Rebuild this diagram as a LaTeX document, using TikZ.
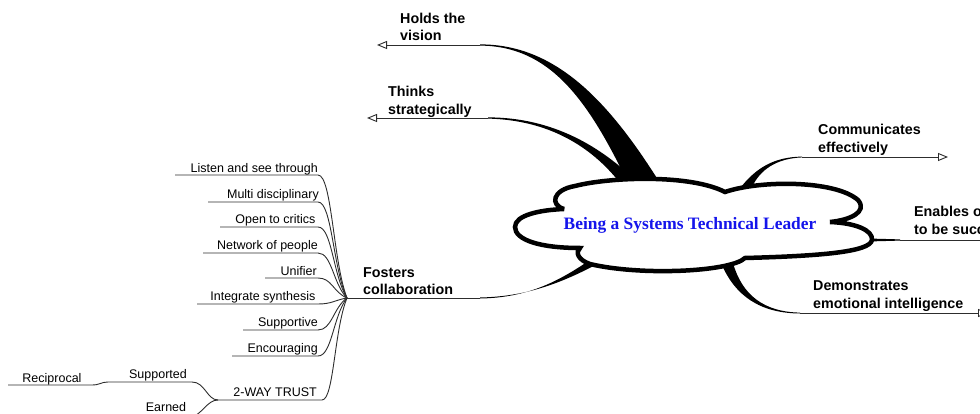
\documentclass[tikz,border=0pt]{standalone}
\usepackage{fontspec}
\setmainfont{Liberation Sans}
\newfontfamily\titlefont{Liberation Serif}
\usetikzlibrary{arrows.meta}
\definecolor{titleblue}{RGB}{20,20,235}
\definecolor{linegray}{RGB}{45,45,45}
\tikzset{
  thinline/.style={draw=linegray, line width=0.9pt},
  opentip/.style={-{Triangle[open,length=10pt,width=8pt,fill=white]}},
  sublabel/.style={font=\fontsize{12.5}{15}\selectfont, inner sep=0pt, anchor=base east},
  leaflabel/.style={font=\fontsize{12.5}{15}\selectfont, inner sep=0pt, anchor=base},
  mainlabel/.style={font=\bfseries\fontsize{14.3}{17.4}\selectfont, inner sep=0pt, anchor=base west},
  taper/.style={fill=black},
  cloudline/.style={draw=black, line width=4.5pt, fill=white, line join=miter, miter limit=4},
  titlestyle/.style={font=\titlefont\bfseries\fontsize{17.4}{20}\selectfont, text=titleblue, inner sep=0pt, anchor=base},
}
\begin{document}
\begin{tikzpicture}[x=1pt,y=-1pt]
\useasboundingbox (0,0) rectangle (980,414);
\clip (0,0) rectangle (980,414);

% ---------- coordinates ----------
\coordinate (holdsA) at (480,45);
\coordinate (holdsTip) at (377,45);
\coordinate (thinksA) at (488,118);
\coordinate (thinksTip) at (367,118);
\coordinate (commA) at (802,157);
\coordinate (commTip) at (948,157);
\coordinate (enabA) at (900,240);
\coordinate (enabTip) at (1000,240);
\coordinate (demoA) at (800,313);
\coordinate (demoTip) at (988,313);
\coordinate (fostA) at (480,298);
\coordinate (hub) at (347,298);
\coordinate (trustL) at (218,400);

% ---------- tapered main branches ----------
\fill[taper] (480,45.6) .. controls (550,46) and (588,100) .. (628,183)
  -- (660,183) .. controls (608,100) and (555,44.2) .. (480,44.4) -- cycle;
\fill[taper] (488,118.6) .. controls (548,120) and (591,146) .. (620,183)
  -- (638,183) .. controls (602,147) and (553,117.3) .. (488,117.4) -- cycle;
\fill[taper] (802,156.6) .. controls (775,157) and (757,167) .. (741,187)
  -- (752,187) .. controls (760,170) and (776,158.5) .. (802,157.4) -- cycle;
\fill[taper] (721,263) .. controls (735,296) and (760,313.2) .. (800,313.5)
  -- (800,312.6) .. controls (764,312) and (742,295) .. (733,263) -- cycle;
\fill[taper] (480,297.5) .. controls (530,296.5) and (566,281) .. (605,260)
  -- (590,260) .. controls (559,281) and (528,297.8) .. (480,298.5) -- cycle;
\fill[taper] (868,238.5) -- (900,239.4) -- (900,240.6) -- (868,241.5) -- cycle;

% ---------- thin main lines with arrows ----------
\draw[thinline, opentip] (holdsA) -- (holdsTip);
\draw[thinline, opentip] (thinksA) -- (thinksTip);
\draw[thinline, opentip] (commA) -- (commTip);
\draw[thinline, opentip] (enabA) -- (enabTip);
\draw[thinline, opentip] (demoA) -- (demoTip);
\draw[thinline] (hub) -- (fostA);

% ---------- sub-branches of Fosters collaboration ----------
\coordinate (listenL) at (175,175);  \coordinate (listenR) at (318,175);
\coordinate (multiL) at (208,202);   \coordinate (multiR) at (318,202);
\coordinate (openL) at (220,227);    \coordinate (openR) at (318,227);
\coordinate (netL) at (203,253);     \coordinate (netR) at (318,253);
\coordinate (uniL) at (265,278);     \coordinate (uniR) at (318,278);
\coordinate (intL) at (197,304);     \coordinate (intR) at (318,304);
\coordinate (supL) at (243,330);     \coordinate (supR) at (318,330);
\coordinate (encL) at (232,356);     \coordinate (encR) at (318,356);
\coordinate (trustR) at (322,400);

\draw[thinline] (listenL) -- (listenR) .. controls (332,175) and (333,262) .. (hub);
\draw[thinline] (multiL) -- (multiR) .. controls (332,202) and (333,269) .. (hub);
\draw[thinline] (openL) -- (openR) .. controls (332,227) and (333,276) .. (hub);
\draw[thinline] (netL) -- (netR) .. controls (332,253) and (333,284) .. (hub);
\draw[thinline] (uniL) -- (uniR) .. controls (332,278) and (333,292) .. (hub);
\draw[thinline] (intL) -- (intR) .. controls (332,304) and (335,300) .. (hub);
\draw[thinline] (supL) -- (supR) .. controls (332,330) and (333,308) .. (hub);
\draw[thinline] (encL) -- (encR) .. controls (332,356) and (333,316) .. (hub);
\draw[thinline] (trustL) -- (trustR) .. controls (334,400) and (334,330) .. (hub);

% ---------- 2-WAY TRUST sub-branches ----------
\coordinate (suppR) at (192,382);
\coordinate (suppL) at (108,382);
\coordinate (recR) at (92,385);
\coordinate (recL) at (8,385);
\coordinate (earnR) at (190,418);
\coordinate (earnL) at (140,418);
\draw[thinline] (trustL) .. controls (207,400) and (205,382) .. (suppR) -- (suppL)
  .. controls (101,382) and (100,385) .. (recR) -- (recL);
\draw[thinline] (trustL) .. controls (207,400) and (203,414) .. (earnR) -- (earnL);

% ---------- cloud ----------
\draw[cloudline] (515,227) .. controls (515,215) and (540,210) .. (564,209)
  .. controls (550,205) and (552,190) .. (575,186)
  .. controls (610,177) and (690,174) .. (725,192)
  .. controls (760,180) and (835,180) .. (858,200)
  .. controls (868,212) and (850,220) .. (830,222)
  .. controls (855,223) and (873,230) .. (872,240)
  .. controls (870,252) and (820,256) .. (745,258)
  .. controls (730,272) and (640,276) .. (590,264)
  .. controls (578,260) and (575,252) .. (580,248)
  .. controls (540,248) and (515,240) .. (515,227) -- cycle;
\node[titlestyle] (title) at (690,230) {Being a Systems Technical Leader};

% ---------- main labels ----------
\node[mainlabel] (holds) at (400,23.3) {\begin{tabular}[t]{@{}l@{}}Holds the\\vision\end{tabular}};
\node[mainlabel] (thinks) at (388,96.7) {\begin{tabular}[t]{@{}l@{}}Thinks\\strategically\end{tabular}};
\node[mainlabel] (comm) at (818,135) {\begin{tabular}[t]{@{}l@{}}Communicates\\effectively\end{tabular}};
\node[mainlabel] (enab) at (914,217) {\begin{tabular}[t]{@{}l@{}}Enables others\\to be successful\end{tabular}};
\node[mainlabel] (demo) at (813,290.7) {\begin{tabular}[t]{@{}l@{}}Demonstrates\\emotional intelligence\end{tabular}};
\node[mainlabel] (fost) at (363,277) {\begin{tabular}[t]{@{}l@{}}Fosters\\collaboration\end{tabular}};

% ---------- sub labels ----------
\node[sublabel] (listen) at (318,172.5) {Listen and see through};
\node[sublabel] (multi) at (319,198.5) {Multi disciplinary};
\node[sublabel] (open) at (315.5,224) {Open to critics};
\node[sublabel] (net) at (318,250) {Network of people};
\node[sublabel] (uni) at (317,275) {Unifier};
\node[sublabel] (integ) at (315.5,300.5) {Integrate synthesis};
\node[sublabel] (supp) at (318,326.5) {Supportive};
\node[sublabel] (enc) at (318,352.5) {Encouraging};
\node[sublabel] (trust) at (317,396) {2-WAY TRUST};
\node[leaflabel] (supported) at (158,378) {Supported};
\node[leaflabel] (recip) at (52,382) {Reciprocal};
\node[leaflabel] (earned) at (166,411) {Earned};
\end{tikzpicture}
\end{document}
